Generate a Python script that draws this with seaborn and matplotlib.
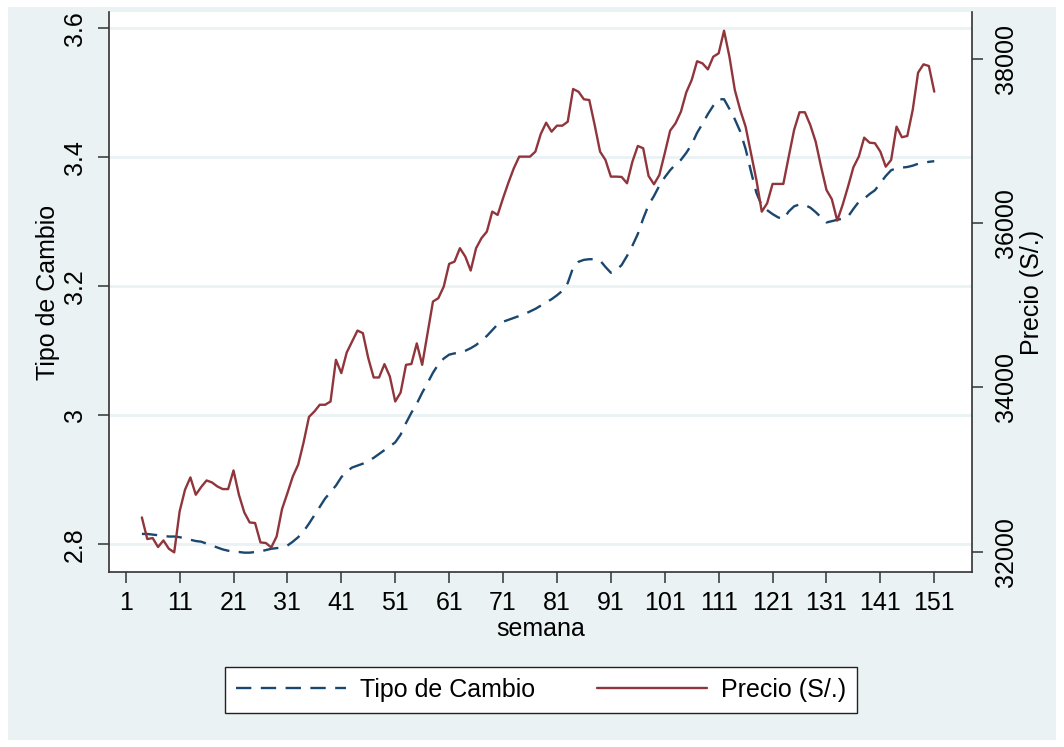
import numpy as np
import pandas as pd
import matplotlib
matplotlib.use("Agg")
import matplotlib.pyplot as plt
from matplotlib.patches import Rectangle
import seaborn as sns

# semanas 4..151
semana = list(range(4, 152))

tipo_cambio = [
    2.816, 2.816, 2.815, 2.814, 2.813, 2.812, 2.812, 2.811, 2.809, 2.807,
    2.805, 2.804, 2.801, 2.798, 2.795, 2.792, 2.790, 2.788, 2.788, 2.787,
    2.787, 2.788, 2.789, 2.791, 2.793, 2.794, 2.795, 2.798, 2.804, 2.811,
    2.820, 2.832, 2.845, 2.858, 2.871, 2.881, 2.891, 2.904, 2.913, 2.919,
    2.922, 2.925, 2.929, 2.934, 2.940, 2.946, 2.952, 2.958, 2.970, 2.988,
    3.004, 3.018, 3.035, 3.050, 3.066, 3.079, 3.088, 3.094, 3.096, 3.097,
    3.100, 3.104, 3.109, 3.116, 3.123, 3.132, 3.141, 3.145, 3.148, 3.151,
    3.154, 3.157, 3.161, 3.165, 3.170, 3.175, 3.180, 3.186, 3.193, 3.205,
    3.229, 3.238, 3.241, 3.242, 3.242, 3.240, 3.230, 3.221, 3.225, 3.233,
    3.247, 3.263, 3.281, 3.305, 3.326, 3.340, 3.356, 3.369, 3.380, 3.389,
    3.396, 3.407, 3.420, 3.438, 3.452, 3.467, 3.480, 3.490, 3.490, 3.475,
    3.459, 3.440, 3.413, 3.378, 3.345, 3.325, 3.318, 3.312, 3.307, 3.304,
    3.316, 3.324, 3.327, 3.326, 3.322, 3.315, 3.307, 3.299, 3.301, 3.303,
    3.305, 3.308, 3.320, 3.331, 3.336, 3.343, 3.349, 3.360, 3.371, 3.380,
    3.383, 3.384, 3.385, 3.387, 3.390, 3.391, 3.393, 3.394,
]

precio = [
    32417, 32154, 32166, 32057, 32137, 32036, 31992, 32490, 32754, 32904,
    32693, 32787, 32867, 32843, 32794, 32762, 32762, 32989, 32693, 32478,
    32356, 32349, 32113, 32106, 32052, 32186, 32519, 32713, 32916, 33060,
    33330, 33640, 33706, 33788, 33788, 33828, 34335, 34173, 34424, 34557,
    34691, 34659, 34355, 34120, 34120, 34282, 34132, 33828, 33937, 34274,
    34284, 34535, 34274, 34659, 35044, 35085, 35226, 35502, 35530, 35693,
    35591, 35421, 35693, 35815, 35895, 36138, 36098, 36301, 36491, 36666,
    36807, 36807, 36807, 36868, 37083, 37220, 37111, 37184, 37184, 37232,
    37630, 37597, 37505, 37496, 37192, 36868, 36767, 36564, 36564, 36560,
    36483, 36746, 36937, 36909, 36572, 36471, 36584, 36848, 37123, 37213,
    37354, 37590, 37740, 37968, 37942, 37869, 38023, 38064, 38339, 38023,
    37618, 37375, 37172, 36848, 36524, 36138, 36240, 36475, 36475, 36475,
    36807, 37132, 37347, 37347, 37192, 36989, 36685, 36402, 36289, 36029,
    36220, 36442, 36678, 36807, 37038, 36977, 36970, 36868, 36685, 36767,
    37172, 37043, 37059, 37375, 37829, 37930, 37910, 37598,
]

x_ticks = list(range(1, 152, 10))
left_ticks = [2.8, 3.0, 3.2, 3.4, 3.6]
left_labels = ["2.8", "3", "3.2", "3.4", "3.6"]
right_ticks = [32000, 34000, 36000, 38000]

NAVY = "#1a476f"
MAROON = "#90353b"
BG = "#eaf2f3"
FS = 18

df = pd.DataFrame({"semana": semana, "tc": tipo_cambio, "precio": precio})

sns.set_style("white")
plt.rcParams["font.family"] = ["Liberation Sans", "DejaVu Sans"]
plt.rcParams["text.color"] = "black"
plt.rcParams["axes.labelcolor"] = "black"
plt.rcParams["xtick.color"] = "black"
plt.rcParams["ytick.color"] = "black"

fig = plt.figure(figsize=(10.64, 7.47), dpi=100)
fig.patch.set_facecolor("white")
fig.add_artist(Rectangle((8 / 1064, 7 / 747), 1048 / 1064, 733 / 747,
                         transform=fig.transFigure, facecolor=BG,
                         edgecolor="none", zorder=-10))

ax = fig.add_axes([109 / 1064, 1 - 572 / 747, 863 / 1064, 560 / 747])
ax.set_facecolor("white")
ax2 = ax.twinx()
ax2.set_facecolor("none")

sns.lineplot(data=df, x="semana", y="tc", ax=ax, color=NAVY, linewidth=1.7,
             linestyle=(0, (6.5, 4)), label="Tipo de Cambio", legend=False)
sns.lineplot(data=df, x="semana", y="precio", ax=ax2, color=MAROON,
             linewidth=1.7, label="Precio (S/.)", legend=False)

ax.set_xlim(-2.1, 158)
ax.set_ylim(2.757, 3.6253)
ax2.set_ylim(31753, 38567)

ax.set_xticks(x_ticks)
ax.set_yticks(left_ticks)
ax.set_yticklabels(left_labels, rotation=90, va="center")
ax2.set_yticks(right_ticks)
ax2.set_yticklabels([str(t) for t in right_ticks], rotation=90, va="center")

ax.grid(axis="y", color=BG, linewidth=2)
ax.grid(axis="x", visible=False)
ax2.grid(False)

for a in (ax, ax2):
    for s in a.spines.values():
        s.set_color("#333333")
        s.set_linewidth(1.2)
    a.spines["top"].set_visible(False)
ax.spines["right"].set_visible(False)
ax2.spines["left"].set_visible(False)
ax2.spines["bottom"].set_visible(False)

ax.tick_params(axis="both", direction="out", length=8, width=1.1,
               color="#333333", labelcolor="black", labelsize=FS, pad=6)
ax.tick_params(axis="y", pad=8)
ax.tick_params(left=True, bottom=True)
ax2.tick_params(axis="y", direction="out", length=8, width=1.1,
                color="#333333", labelcolor="black", labelsize=FS, pad=8,
                right=True)

ax.set_xlabel("semana", fontsize=FS, labelpad=1)
ax.set_ylabel("Tipo de Cambio", fontsize=FS, labelpad=2)
ax2.set_ylabel("Precio (S/.)", fontsize=FS, labelpad=1)

handles = [ax.get_lines()[0], ax2.get_lines()[0]]
leg = fig.legend(handles, ["Tipo de Cambio", "Precio (S/.)"],
                 loc="center", bbox_to_anchor=(541 / 1064, 1 - 690 / 747),
                 ncol=2, fontsize=FS, fancybox=False, framealpha=1,
                 edgecolor="#222222", handlelength=4.4, handletextpad=0.55,
                 columnspacing=2.5, borderpad=0.45)
leg.get_frame().set_linewidth(1.0)

fig.savefig("out.png", dpi=100, facecolor=fig.get_facecolor())
plt.close(fig)
